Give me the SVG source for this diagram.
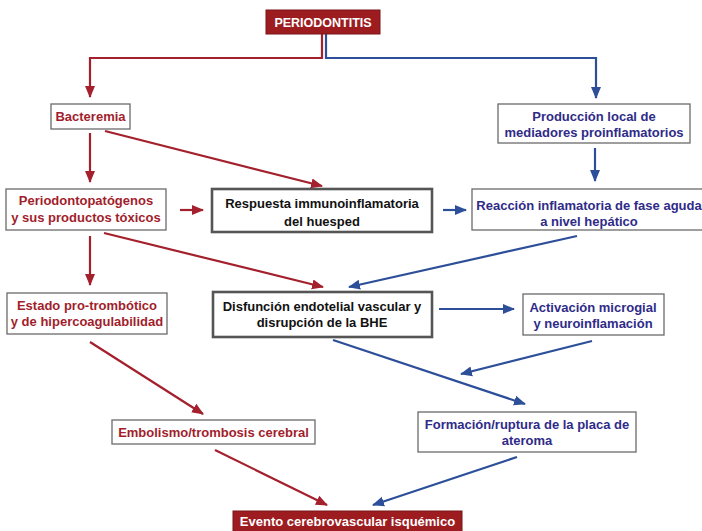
<svg xmlns="http://www.w3.org/2000/svg" width="702" height="531" viewBox="0 0 702 531">
<defs>
<style>
text{font-family:"Liberation Sans",Arial,sans-serif;font-weight:bold;font-size:13px;text-anchor:middle}
.r{fill:#a11e2c}
.b{fill:#2f2b88}
.k{fill:#111}
.w{fill:#fff}
.box{fill:#fff;stroke:#6a6a6a;stroke-width:1.3}
.bx2{fill:#fff;stroke:#555;stroke-width:2.6}
.fill{fill:#9c1c20;stroke:#7a1418;stroke-width:1}
.lr{fill:none;stroke:#a3202c;stroke-width:2.2}
.lb{fill:none;stroke:#2d4f9a;stroke-width:2.2}
</style>
<marker id="ar" markerUnits="userSpaceOnUse" markerWidth="12" markerHeight="12" viewBox="0 0 12 12" refX="11" refY="6" orient="auto"><path d="M0,1 L12,6 L0,11 Z" fill="#a3202c"/></marker>
<marker id="ab" markerUnits="userSpaceOnUse" markerWidth="12" markerHeight="12" viewBox="0 0 12 12" refX="11" refY="6" orient="auto"><path d="M0,1 L12,6 L0,11 Z" fill="#2d4f9a"/></marker>
</defs>
<rect width="702" height="531" fill="#fff"/>
<g id="connectors">
<path class="lr" d="M322,34 V58 H90 V97" marker-end="url(#ar)"/>
<path class="lb" d="M326,34 V58 H596 V98" marker-end="url(#ab)"/>
<path class="lr" d="M90,133 V182" marker-end="url(#ar)"/>
<path class="lr" d="M105,131 L322,186" marker-end="url(#ar)"/>
<path class="lr" d="M180,210 H203" marker-end="url(#ar)"/>
<path class="lb" d="M443,210 H466" marker-end="url(#ab)"/>
<path class="lb" d="M595,148 V181" marker-end="url(#ab)"/>
<path class="lr" d="M90,236 V285" marker-end="url(#ar)"/>
<path class="lr" d="M104,233 L323,287" marker-end="url(#ar)"/>
<path class="lb" d="M577,236 L349,287" marker-end="url(#ab)"/>
<path class="lb" d="M439,309 H514" marker-end="url(#ab)"/>
<path class="lb" d="M592,341 L461,374" marker-end="url(#ab)"/>
<path class="lb" d="M333,340 L525,404" marker-end="url(#ab)"/>
<path class="lr" d="M90,342 L203,414" marker-end="url(#ar)"/>
<path class="lr" d="M215,450 L327,505" marker-end="url(#ar)"/>
<path class="lb" d="M517,457 L373,505" marker-end="url(#ab)"/>
</g>
<g id="periodontitis">
<rect class="fill" x="266" y="10" width="114" height="24"/>
<text class="w" x="323" y="26.5" style="font-size:12.5px">PERIODONTITIS</text>
</g>
<g id="bacteremia">
<rect class="box" x="51" y="104" width="79" height="25"/>
<text class="r" x="90.5" y="121">Bacteremia</text>
</g>
<g id="produccion">
<rect class="box" x="498" y="104" width="192" height="39"/>
<text class="b" x="594" y="120.5">Producción local de</text>
<text class="b" x="594" y="137">mediadores proinflamatorios</text>
</g>
<g id="periodontopatogenos">
<rect class="box" x="6" y="189" width="160" height="41"/>
<text class="r" x="86" y="205">Periodontopatógenos</text>
<text class="r" x="86" y="222">y sus productos tóxicos</text>
</g>
<g id="respuesta">
<rect class="bx2" x="212" y="189" width="220" height="43"/>
<text class="k" x="322" y="208">Respuesta immunoinflamatoria</text>
<text class="k" x="322" y="226">del huesped</text>
</g>
<g id="reaccion">
<rect class="box" x="472" y="189" width="245" height="41"/>
<text class="b" x="589" y="210">Reacción inflamatoria de fase aguda</text>
<text class="b" x="589" y="226">a nivel hepático</text>
</g>
<g id="estado">
<rect class="box" x="7" y="293" width="160" height="41"/>
<text class="r" x="87" y="310">Estado pro-trombótico</text>
<text class="r" x="87" y="326">y de hipercoagulabilidad</text>
</g>
<g id="disfuncion">
<rect class="bx2" x="213" y="292" width="219" height="45"/>
<text class="k" x="322" y="311">Disfunción endotelial vascular y</text>
<text class="k" x="322" y="327">disrupción de la BHE</text>
</g>
<g id="activacion">
<rect class="box" x="523" y="294" width="141" height="41"/>
<text class="b" x="593" y="312">Activación microgial</text>
<text class="b" x="593" y="328">y neuroinflamación</text>
</g>
<g id="embolismo">
<rect class="box" x="112" y="420" width="203" height="24"/>
<text class="r" x="213.5" y="436.5">Embolismo/trombosis cerebral</text>
</g>
<g id="formacion">
<rect class="box" x="418" y="412" width="218" height="40"/>
<text class="b" x="527" y="428.5">Formación/ruptura de la placa de</text>
<text class="b" x="527" y="445">ateroma</text>
</g>
<g id="evento">
<rect class="fill" x="233" y="511" width="229" height="26"/>
<text class="w" x="347.5" y="526">Evento cerebrovascular isquémico</text>
</g>
</svg>
